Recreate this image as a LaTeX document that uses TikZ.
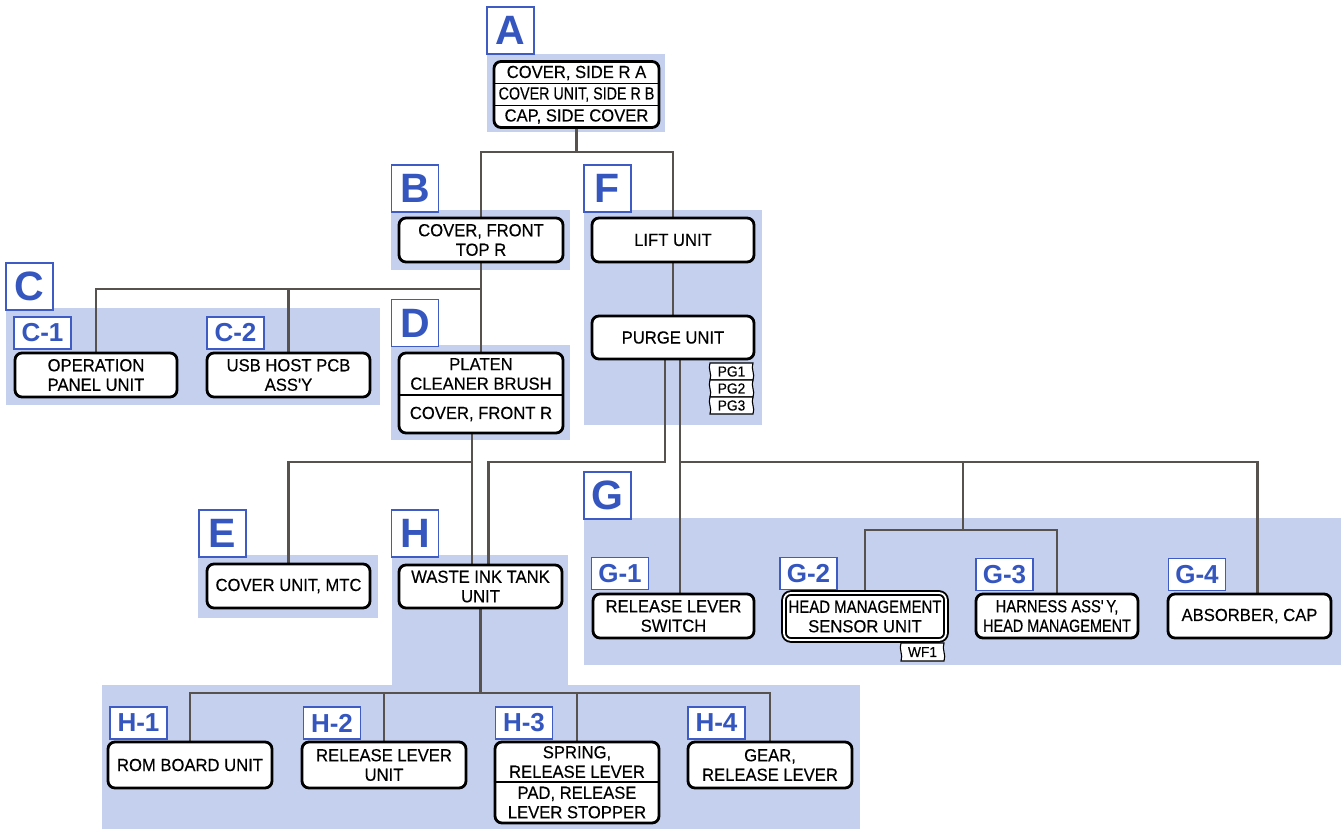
\documentclass[tikz,border=0pt]{standalone}
\usepackage{fontspec}
\setmainfont{Liberation Sans}
\newfontfamily\partface[FakeStretch=0.95,FakeBold=0.3]{Liberation Sans}
\usepackage{graphicx}

\definecolor{shade}{RGB}{196,208,237}
\definecolor{tagblue}{RGB}{62,92,196}
\definecolor{lettercol}{RGB}{52,86,190}
\definecolor{wirecol}{RGB}{88,82,78}

\newcommand\partfont{\partface\fontsize{17.5}{19.5}\selectfont}
\newcommand\cond[2]{\scalebox{#1}[1]{#2}}

% small label with wavy sides, e.g. connector marks PG1, WF1
% #1 name, #2 left, #3 top, #4 right, #5 bottom, #6 text
\newcommand\wavetag[6]{%
  \filldraw[tagline] (#2,#3) -- (#4,#3)
     .. controls ({#4-2.5},{#3+(#5-#3)*0.35}) and ({#4+2.5},{#3+(#5-#3)*0.65}) .. (#4,#5)
     -- (#2,#5)
     .. controls ({#2+2.5},{#3+(#5-#3)*0.65}) and ({#2-2.5},{#3+(#5-#3)*0.35}) .. cycle;
  \node[tagtext] (#1) at ({(#2+#4)/2},{(#3+#5)/2}) {#6};
}

\pgfdeclarelayer{back}
\pgfsetlayers{back,main}

\tikzset{
  part/.style={draw=black, line width=2.8pt, rounded corners=7pt, fill=white,
    align=center, inner sep=0pt, font=\partfont},
  parttext/.style={align=center, inner sep=0pt, font=\partfont},
  divider/.style={draw=black, line width=1.5pt},
  bigtag/.style={draw=tagblue, line width=1.8pt, fill=white, inner sep=0pt,
    minimum width=47pt, minimum height=47pt, text=lettercol,
    font=\fontsize{41}{41}\selectfont\bfseries},
  subtag/.style={draw=tagblue, line width=1.6pt, fill=white, inner sep=0pt,
    minimum width=57pt, minimum height=32pt, text=lettercol,
    font=\fontsize{26}{26}\selectfont\bfseries},
  wire/.style={draw=wirecol, line width=2.8pt},
  area/.style={fill=shade},
  tagline/.style={draw=black, fill=white, line width=1.1pt},
  tagtext/.style={inner sep=0pt, font=\partface\fontsize{14.5}{14.5}\selectfont},
}

\begin{document}
\begin{tikzpicture}[x=1pt, y=-1pt]
\useasboundingbox (0,0) rectangle (1341,829);

% parts
\node[part, minimum width=165pt, minimum height=66pt] (A) at (576.5,94.5) {};
\node[part, minimum width=164pt, minimum height=44pt] (B) at (481,240) {COVER, FRONT\\TOP R};
\node[part, minimum width=162pt, minimum height=44pt] (LIFT) at (673,240) {LIFT UNIT};
\node[part, minimum width=162pt, minimum height=43pt] (PURGE) at (673,337.5) {PURGE UNIT};
\node[part, minimum width=162pt, minimum height=44pt] (C1) at (96,375) {OPERATION\\PANEL UNIT};
\node[part, minimum width=163pt, minimum height=44pt] (C2) at (288.5,375) {USB HOST PCB\\ASS'Y};
\node[part, minimum width=164pt, minimum height=80pt] (D) at (481,393) {};
\node[part, minimum width=163pt, minimum height=44pt] (E) at (288.5,586) {COVER UNIT, MTC};
\node[part, minimum width=163pt, minimum height=43pt] (W) at (480.5,586.5) {WASTE INK TANK\\UNIT};
\node[part, minimum width=161pt, minimum height=44pt] (G1) at (673.5,616) {RELEASE LEVER\\SWITCH};
\node[part, line width=1.9pt, double=white, double distance=1.8pt,
      minimum width=162pt, minimum height=47pt] (G2) at (865,616.5)
      {\cond{0.9}{HEAD MANAGEMENT}\\SENSOR UNIT};
\node[part, minimum width=162pt, minimum height=44pt] (G3) at (1057,616)
      {\cond{0.89}{HARNESS ASS'\,Y,}\\\cond{0.87}{HEAD MANAGEMENT}};
\node[part, minimum width=163pt, minimum height=44pt] (G4) at (1249.5,616) {ABSORBER, CAP};
\node[part, minimum width=164pt, minimum height=46pt] (H1) at (190,765) {ROM BOARD UNIT};
\node[part, minimum width=164pt, minimum height=46pt] (H2) at (384,765) {RELEASE LEVER\\UNIT};
\node[part, minimum width=164pt, minimum height=81pt] (H3) at (577,782.5) {};
\node[part, minimum width=164pt, minimum height=46pt] (H4) at (770,765) {GEAR,\\RELEASE LEVER};

% rows of the split parts
\coordinate (dvA1) at (0,83.5);
\coordinate (dvA2) at (0,105.5);
\coordinate (dvD) at (0,395);
\coordinate (dvH) at (0,782);
\draw[divider] (A.west |- dvA1) -- (A.east |- dvA1);
\draw[divider] (A.west |- dvA2) -- (A.east |- dvA2);
\draw[divider] (D.west |- dvD) -- (D.east |- dvD);
\draw[divider] (H3.west |- dvH) -- (H3.east |- dvH);
\node[parttext] (A1) at (576.5,73) {COVER, SIDE R A};
\node[parttext] (A2) at (576.5,94.5) {\cond{0.86}{COVER UNIT, SIDE R B}};
\node[parttext] (A3) at (576.5,116.5) {CAP, SIDE COVER};
\node[parttext] (D1) at (481,374) {PLATEN\\CLEANER BRUSH};
\node[parttext] (D2) at (481,414) {COVER, FRONT R};
\node[parttext] (H3a) at (577,762) {SPRING,\\RELEASE LEVER};
\node[parttext] (H3b) at (577,802.5) {PAD, RELEASE\\LEVER STOPPER};

% connector marks
\wavetag{PG1}{710}{363}{753}{380}{PG1}
\wavetag{PG2}{710}{380}{753}{397}{PG2}
\wavetag{PG3}{710}{397}{753}{414}{PG3}
\wavetag{WF1}{901}{643}{944}{661}{WF1}

% group letters
\node[bigtag] (tA) at (510.5,30.5) {A};
\node[bigtag] (tB) at (415,188.5) {B};
\node[bigtag] (tF) at (607.5,188.5) {F};
\node[bigtag] (tC) at (29.5,286.5) {C};
\node[bigtag] (tD) at (415,323) {D};
\node[bigtag] (tE) at (222.5,533.5) {E};
\node[bigtag] (tH) at (415,533.5) {H};
\node[bigtag] (tG) at (607.5,495.5) {G};
\node[subtag] (tC1) at (42.5,333) {C-1};
\node[subtag] (tC2) at (235.5,333) {C-2};
\node[subtag] (tG1) at (620,573.5) {G-1};
\node[subtag] (tG2) at (808.5,573.5) {G-2};
\node[subtag] (tG3) at (1004.5,574.5) {G-3};
\node[subtag] (tG4) at (1197,574.5) {G-4};
\node[subtag] (tH1) at (138.5,723) {H-1};
\node[subtag] (tH2) at (332,723) {H-2};
\node[subtag] (tH3) at (524,723) {H-3};
\node[subtag] (tH4) at (716.5,723) {H-4};

% bus levels and offset connector ends
\coordinate (jA) at (576.5,152);
\coordinate (jB) at (481,289);
\coordinate (busD) at (0,462);
\coordinate (jG) at (963,462);
\coordinate (busG) at (0,530);
\coordinate (busH) at (0,693);
\coordinate (dl) at ([xshift=-9pt]D.south);
\coordinate (pl) at ([xshift=-8pt]PURGE.south);
\coordinate (pr) at ([xshift=7pt]PURGE.south);
\coordinate (wr) at ([xshift=8pt]W.north);
\coordinate (g4in) at ([xshift=8pt]G4.north);

\begin{pgfonlayer}{back}
  % page and shaded group areas
  \fill[white] (0,0) rectangle (1341,829);
  \fill[area] (487,54) rectangle (665,132);
  \fill[area] (391,210) rectangle (570,270);
  \fill[area] (584,210) rectangle (762,425);
  \fill[area] (6,308) rectangle (380,405);
  \fill[area] (391,345) rectangle (570,440);
  \fill[area] (198,555) rectangle (378,618);
  \fill[area] (392,555) rectangle (568,690);
  \fill[area] (102,685) rectangle (860,829);
  \fill[area] (584,518) rectangle (1341,665);

  % connectors
  \draw[wire] (A.south) -- (jA);
  \draw[wire] (B.north) |- (jA) -| (LIFT.north);
  \draw[wire] (LIFT.south) -- (PURGE.north);
  \draw[wire] (B.south) -- (D.north);
  \draw[wire] (C1.north) |- (jB);
  \draw[wire] (C2.north) -- (C2.north |- jB);
  \draw[wire] (dl) -- (dl |- W.north);
  \draw[wire] (dl |- busD) -| (E.north);
  \draw[wire] (pl) |- (wr |- busD) -- (wr);
  \draw[wire] (pr) -- (pr |- G1.north);
  \draw[wire] (pr |- busD) -| (g4in);
  \draw[wire] (jG) -- (jG |- busG);
  \draw[wire] (G2.north) |- (G3.north |- busG) -- (G3.north);
  \draw[wire] (W.south) -- (W.south |- busH);
  \draw[wire] (H1.north) |- (H4.north |- busH) -- (H4.north);
  \draw[wire] (H2.north) -- (H2.north |- busH);
  \draw[wire] (H3.north) -- (H3.north |- busH);
\end{pgfonlayer}
\end{tikzpicture}
\end{document}
